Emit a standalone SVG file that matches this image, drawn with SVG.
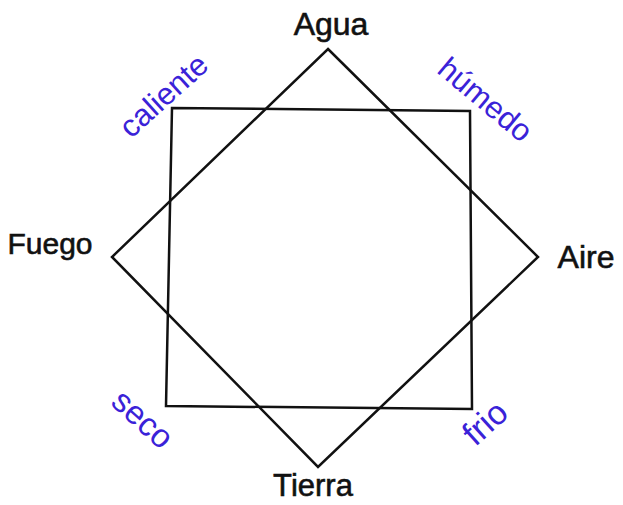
<svg xmlns="http://www.w3.org/2000/svg" width="623" height="505" viewBox="0 0 623 505">
<style>
.shape{fill:none;stroke:#111;stroke-width:2.5;stroke-linejoin:miter}
.el{font-family:"Liberation Sans",Arial,sans-serif;font-size:32px;fill:#111;text-anchor:middle;stroke:#111;stroke-width:0.6}
.q{font-family:"Liberation Sans",Arial,sans-serif;font-size:31px;fill:#3a22d8;text-anchor:middle}
</style>
<rect width="623" height="505" fill="#fff"/>
<g id="connectors">
<polygon class="shape" points="172,108 470,111 472,409 166,406"/>
<polygon class="shape" points="328,49 538,257 318,467 112,257"/>
</g>
<g id="agua"><text class="el" x="331" y="35">Agua</text></g>
<g id="fuego"><text class="el" x="50" y="254" style="font-size:30px">Fuego</text></g>
<g id="aire"><text class="el" x="586" y="268">Aire</text></g>
<g id="tierra"><text class="el" x="313" y="496" style="font-size:31px">Tierra</text></g>
<g id="caliente"><text class="q" transform="translate(164,96) rotate(-42)" y="10">caliente</text></g>
<g id="humedo"><text class="q" transform="translate(485,100) rotate(40)" y="10">húmedo</text></g>
<g id="seco"><text class="q" transform="translate(142,420) rotate(42)" y="10" style="font-size:33px">seco</text></g>
<g id="frio"><text class="q" transform="translate(486,424) rotate(-42)" y="10" style="font-size:34px">frio</text></g>
</svg>
